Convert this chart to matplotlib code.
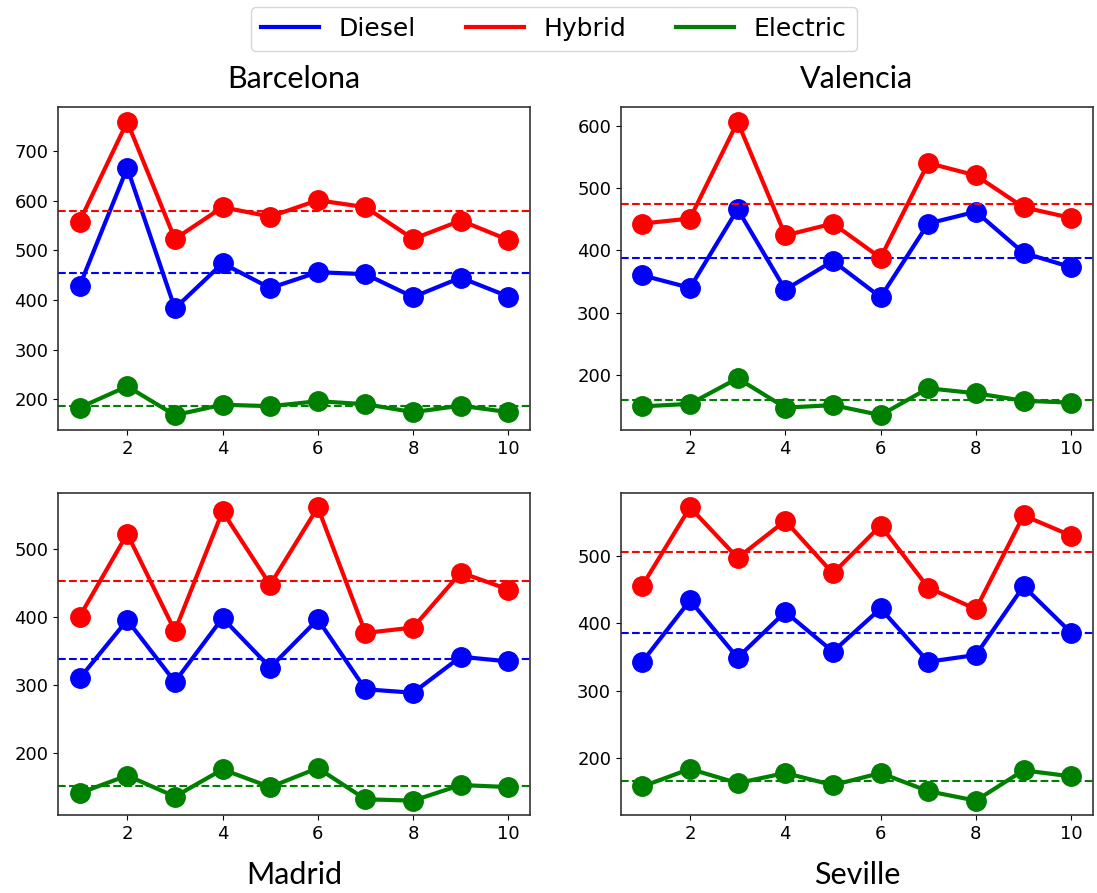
import matplotlib
matplotlib.use("Agg")
import matplotlib.pyplot as plt
from matplotlib.lines import Line2D
import numpy as np

x = list(range(1, 11))
cities = ["Barcelona", "Valencia", "Madrid", "Seville"]
series_names = ["Diesel", "Hybrid", "Electric"]
colors = ["blue", "red", "green"]

barcelona_diesel = [428, 666, 383, 474, 424, 456, 452, 406, 445, 407]
barcelona_hybrid = [558, 759, 523, 587, 568, 601, 587, 523, 560, 521]
barcelona_electric = [183, 226, 168, 189, 186, 196, 190, 174, 187, 174]

valencia_diesel = [360, 340, 466, 337, 383, 325, 443, 462, 396, 373]
valencia_hybrid = [443, 451, 606, 424, 443, 388, 540, 520, 469, 452]
valencia_electric = [150, 154, 195, 148, 152, 136, 179, 171, 159, 156]

madrid_diesel = [310, 396, 305, 399, 326, 397, 294, 289, 342, 335]
madrid_hybrid = [401, 523, 380, 556, 448, 562, 377, 385, 466, 441]
madrid_electric = [141, 167, 136, 176, 150, 178, 132, 130, 153, 150]

seville_diesel = [343, 434, 349, 417, 358, 422, 343, 353, 455, 386]
seville_hybrid = [456, 572, 497, 552, 474, 545, 453, 421, 560, 530]
seville_electric = [158, 184, 163, 178, 160, 178, 151, 137, 182, 173]

data = {
    "Barcelona": [barcelona_diesel, barcelona_hybrid, barcelona_electric],
    "Valencia": [valencia_diesel, valencia_hybrid, valencia_electric],
    "Madrid": [madrid_diesel, madrid_hybrid, madrid_electric],
    "Seville": [seville_diesel, seville_hybrid, seville_electric],
}

fig, axes = plt.subplots(2, 2, figsize=(10.97, 8.93), dpi=100)
fig.subplots_adjust(left=0.053, right=0.996, top=0.880, bottom=0.087,
                    hspace=0.195, wspace=0.193)

for ax, city in zip(axes.flat, cities):
    for vals, c in zip(data[city], colors):
        ax.plot(x, vals, color=c, lw=3, marker="o", markersize=14)
        ax.axhline(np.mean(vals), color=c, ls="--", lw=1.5)
    ax.tick_params(labelsize=13)
    ax.set_xticks([2, 4, 6, 8, 10])
    for sp in ax.spines.values():
        sp.set_color("#333333")
        sp.set_linewidth(1.2)

for ax, city in zip(axes[0], cities[:2]):
    ax.set_title(city, fontsize=22, pad=14, family="Lato")
for ax, city in zip(axes[1], cities[2:]):
    ax.set_xlabel(city, fontsize=22, labelpad=13, family="Lato")

handles = [Line2D([0], [0], color=c, lw=3) for c in colors]
fig.legend(handles, series_names, loc="upper center", ncol=3, fontsize=18,
           bbox_to_anchor=(0.505, 0.992), borderaxespad=0.0,
           columnspacing=2.0, handlelength=2.3)

fig.savefig("out.png", dpi=100)
